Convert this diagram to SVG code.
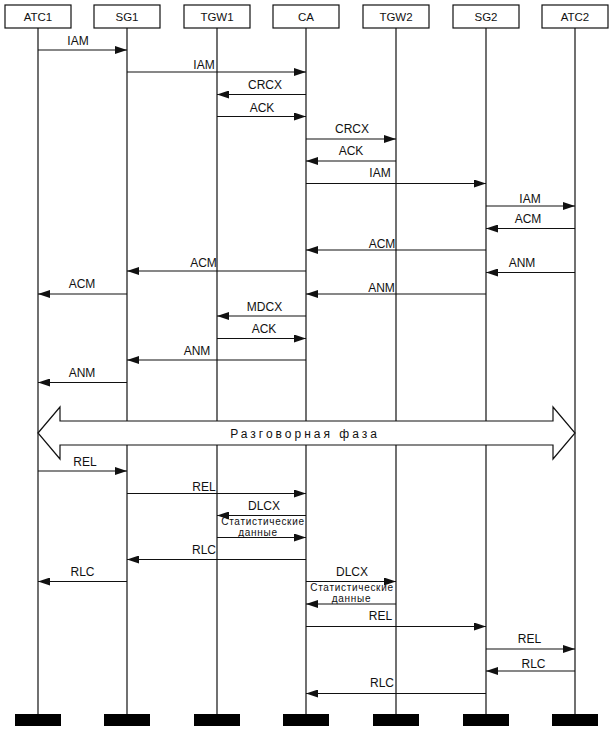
<svg xmlns="http://www.w3.org/2000/svg" width="616" height="729" viewBox="0 0 616 729">
<style>
.box{fill:#fff;stroke:#111;stroke-width:1.2}
.life{stroke:#111;stroke-width:1.2}
.bar{fill:#000}
.msg{stroke:#111;stroke-width:1.2;fill:none;marker-end:url(#ah)}
.hd{font-family:"Liberation Sans",Arial,sans-serif;font-size:11.5px;fill:#111;text-anchor:middle}
.lb{font-family:"Liberation Sans",Arial,sans-serif;font-size:12px;fill:#111;text-anchor:middle}
.sm{font-family:"Liberation Sans",Arial,sans-serif;font-size:10px;letter-spacing:0.7px;fill:#111;text-anchor:middle}
</style>
<defs>
<marker id="ah" markerUnits="userSpaceOnUse" markerWidth="12" markerHeight="8" refX="12" refY="4" orient="auto">
<path d="M0,0 L12,4 L0,8 z" fill="#111"/>
</marker>
</defs>
<rect width="616" height="729" fill="#fff"/>
<g id="lifelines">
<line class="life" x1="38" y1="28" x2="38" y2="714"/>
<line class="life" x1="127" y1="28" x2="127" y2="714"/>
<line class="life" x1="217" y1="28" x2="217" y2="714"/>
<line class="life" x1="306" y1="28" x2="306" y2="714"/>
<line class="life" x1="396" y1="28" x2="396" y2="714"/>
<line class="life" x1="486" y1="28" x2="486" y2="714"/>
<line class="life" x1="575" y1="28" x2="575" y2="714"/>
</g>
<g id="ATC1"><rect class="box" x="5" y="5" width="66" height="23"/><text class="hd" x="38" y="21">ATC1</text><rect class="bar" x="15" y="714" width="46" height="12"/></g>
<g id="SG1"><rect class="box" x="94" y="5" width="66" height="23"/><text class="hd" x="127" y="21">SG1</text><rect class="bar" x="104" y="714" width="46" height="12"/></g>
<g id="TGW1"><rect class="box" x="184" y="5" width="66" height="23"/><text class="hd" x="217" y="21">TGW1</text><rect class="bar" x="194" y="714" width="46" height="12"/></g>
<g id="CA"><rect class="box" x="273" y="5" width="66" height="23"/><text class="hd" x="306" y="21">CA</text><rect class="bar" x="283" y="714" width="46" height="12"/></g>
<g id="TGW2"><rect class="box" x="363" y="5" width="66" height="23"/><text class="hd" x="396" y="21">TGW2</text><rect class="bar" x="373" y="714" width="46" height="12"/></g>
<g id="SG2"><rect class="box" x="453" y="5" width="66" height="23"/><text class="hd" x="486" y="21">SG2</text><rect class="bar" x="463" y="714" width="46" height="12"/></g>
<g id="ATC2"><rect class="box" x="542" y="5" width="66" height="23"/><text class="hd" x="575" y="21">ATC2</text><rect class="bar" x="552" y="714" width="46" height="12"/></g>
<g id="connectors">
<line class="msg" x1="38" y1="50" x2="127" y2="50"/>
<line class="msg" x1="127" y1="72" x2="306" y2="72"/>
<line class="msg" x1="306" y1="94.5" x2="217" y2="94.5"/>
<line class="msg" x1="217" y1="116.5" x2="306" y2="116.5"/>
<line class="msg" x1="306" y1="139" x2="396" y2="139"/>
<line class="msg" x1="396" y1="161" x2="306" y2="161"/>
<line class="msg" x1="306" y1="183.5" x2="486" y2="183.5"/>
<line class="msg" x1="486" y1="206" x2="575" y2="206"/>
<line class="msg" x1="575" y1="228.5" x2="486" y2="228.5"/>
<line class="msg" x1="486" y1="250" x2="306" y2="250"/>
<line class="msg" x1="306" y1="271" x2="127" y2="271"/>
<line class="msg" x1="575" y1="272.5" x2="486" y2="272.5"/>
<line class="msg" x1="486" y1="294" x2="306" y2="294"/>
<line class="msg" x1="127" y1="294" x2="38" y2="294"/>
<line class="msg" x1="306" y1="316" x2="217" y2="316"/>
<line class="msg" x1="217" y1="338.5" x2="306" y2="338.5"/>
<line class="msg" x1="306" y1="360" x2="127" y2="360"/>
<line class="msg" x1="127" y1="382.5" x2="38" y2="382.5"/>
<line class="msg" x1="38" y1="471" x2="127" y2="471"/>
<line class="msg" x1="127" y1="493.5" x2="306" y2="493.5"/>
<line class="msg" x1="306" y1="515.5" x2="217" y2="515.5"/>
<line class="msg" x1="217" y1="537.5" x2="306" y2="537.5"/>
<line class="msg" x1="306" y1="559.5" x2="127" y2="559.5"/>
<line class="msg" x1="127" y1="581.5" x2="38" y2="581.5"/>
<line class="msg" x1="306" y1="581.5" x2="396" y2="581.5"/>
<line class="msg" x1="396" y1="604" x2="306" y2="604"/>
<line class="msg" x1="306" y1="626.5" x2="486" y2="626.5"/>
<line class="msg" x1="486" y1="649" x2="575" y2="649"/>
<line class="msg" x1="575" y1="671" x2="486" y2="671"/>
<line class="msg" x1="486" y1="693.5" x2="306" y2="693.5"/>
<polygon points="38,433 60,407 60,421 553,421 553,407 575,433 553,459 553,445 60,445 60,459" fill="#fff" stroke="#111" stroke-width="1.2"/>
</g>
<g id="labels">
<text class="lb" x="78" y="45">IAM</text>
<text class="lb" x="204" y="69">IAM</text>
<text class="lb" x="265" y="89">CRCX</text>
<text class="lb" x="262" y="112">ACK</text>
<text class="lb" x="352" y="133">CRCX</text>
<text class="lb" x="351" y="155">ACK</text>
<text class="lb" x="380" y="177">IAM</text>
<text class="lb" x="530" y="203">IAM</text>
<text class="lb" x="528" y="223">ACM</text>
<text class="lb" x="382" y="248">ACM</text>
<text class="lb" x="203.5" y="267">ACM</text>
<text class="lb" x="522" y="267">ANM</text>
<text class="lb" x="381.5" y="292">ANM</text>
<text class="lb" x="82" y="288">ACM</text>
<text class="lb" x="264.5" y="311">MDCX</text>
<text class="lb" x="264" y="333">ACK</text>
<text class="lb" x="197" y="355">ANM</text>
<text class="lb" x="82" y="377">ANM</text>
<text class="lb" x="305" y="438" style="letter-spacing:3px">Разговорная фаза</text>
<text class="lb" x="85" y="466">REL</text>
<text class="lb" x="204" y="491">REL</text>
<text class="lb" x="264" y="510">DLCX</text>
<text class="sm" x="263" y="524.5">Статистические</text>
<text class="sm" x="258" y="536">данные</text>
<text class="lb" x="204" y="554">RLC</text>
<text class="lb" x="82.5" y="576">RLC</text>
<text class="lb" x="352" y="576">DLCX</text>
<text class="sm" x="352" y="590.5">Статистические</text>
<text class="sm" x="351.5" y="602">данные</text>
<text class="lb" x="380.5" y="620">REL</text>
<text class="lb" x="529.5" y="643">REL</text>
<text class="lb" x="533.5" y="668">RLC</text>
<text class="lb" x="382" y="687">RLC</text>
</g>
</svg>
